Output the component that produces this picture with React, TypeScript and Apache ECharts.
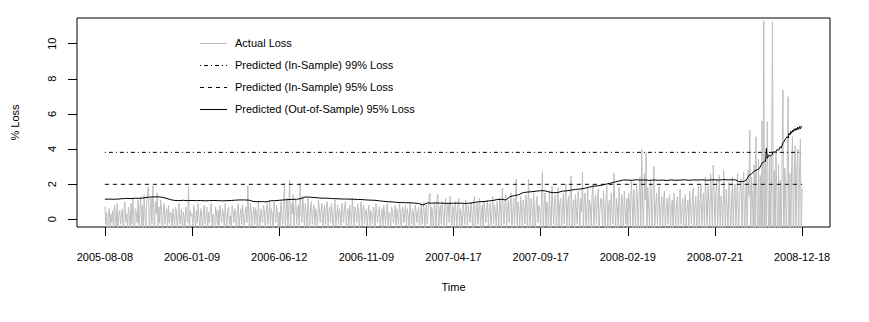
import React, { useEffect, useRef } from "react";
import * as echarts from "echarts";

const dateLabels = ["2005-08-08", "2006-01-09", "2006-06-12", "2006-11-09", "2007-04-17", "2007-09-17", "2008-02-19", "2008-07-21", "2008-12-18"];
const xTickPositions = [0, 100, 200, 300, 400, 500, 600, 700, 800];
const yTickValues = [0, 2, 4, 6, 8, 10];

// Actual daily loss (%), one value per trading day (index 0..800)
const actualLoss = [
  // 0-99
  0.7,-0.3,0.4,-0.8,0.2,0.6,-0.5,0.3,-0.2,0.5,
  -0.6,0.8,0.1,-0.4,0.9,-0.7,0.3,0.5,-0.3,0.2,
  0.6,-0.9,0.4,1.0,-0.2,0.3,-0.6,0.7,0.2,-0.5,
  0.9,-0.3,1.2,0.1,-0.8,0.6,0.4,-0.2,1.1,-0.6,
  0.5,1.3,-0.4,0.8,-1.0,1.4,0.2,-0.5,0.9,1.6,
  1.85,-0.7,0.6,1.2,-0.3,1.9,0.4,-0.9,1.0,0.3,
  1.5,-0.6,0.7,-0.2,1.1,0.5,-0.8,0.4,0.9,-0.3,
  0.2,0.6,-0.5,0.8,-0.2,0.4,0.3,-0.7,0.6,0.1,
  -0.4,0.7,0.5,-0.6,0.3,0.9,-0.3,0.2,0.6,-0.8,
  0.4,0.1,-0.5,0.7,0.3,-0.2,1.85,-0.6,0.5,0.2,
  // 100-199
  0.3,-0.4,0.8,0.2,-0.6,0.5,-0.2,0.9,0.1,-0.5,
  0.6,0.3,-0.7,0.4,0.8,-0.3,0.2,0.7,-0.5,0.4,
  -0.2,0.6,0.9,-0.4,0.3,0.1,-0.8,0.7,0.4,-0.3,
  0.5,-0.6,0.8,0.2,-0.2,0.6,0.3,-0.5,0.9,0.1,
  -0.4,0.5,0.7,-0.3,0.2,-0.6,0.8,0.4,-0.2,0.6,
  0.3,-0.7,0.5,0.9,-0.4,0.2,0.6,-0.3,0.8,0.1,
  -0.5,0.4,0.7,-0.2,1.9,0.3,-0.6,0.9,0.5,-0.4,
  0.2,0.7,-0.3,0.6,0.4,-0.8,1.0,0.2,-0.5,0.6,
  0.3,-0.2,0.8,0.5,-0.6,0.4,0.9,-0.3,0.2,1.1,
  -0.4,0.6,0.3,-0.7,1.0,0.5,-0.2,0.8,0.4,-0.5,
  // 200-299
  0.4,-0.5,1.0,0.3,-0.3,0.8,2.06,-0.6,0.5,1.2,
  -0.4,0.7,2.2,-0.8,0.9,0.3,1.4,-0.5,0.6,1.1,
  -0.3,0.5,0.8,-0.7,2.06,0.4,-0.2,1.3,0.6,-0.5,
  0.9,0.3,-0.4,1.2,0.5,-0.6,0.7,1.0,-0.3,0.4,
  0.8,-0.5,0.6,0.2,-0.4,1.1,0.7,-0.2,0.5,0.9,
  -0.6,0.3,0.8,-0.3,0.6,1.0,-0.5,0.4,0.7,-0.2,
  0.9,0.3,-0.6,0.5,1.1,-0.4,0.2,0.8,-0.3,0.6,
  0.4,-0.7,0.9,0.5,-0.2,0.7,1.0,-0.5,0.3,0.6,
  -0.4,0.8,0.2,-0.3,1.2,0.5,-0.6,0.7,0.4,-0.2,
  0.9,0.3,-0.5,0.6,1.0,-0.4,0.5,0.8,-0.3,0.4,
  // 300-399
  0.6,-0.4,0.3,0.8,-0.5,0.5,0.2,-0.3,0.7,0.4,
  -0.6,0.9,0.3,-0.2,0.5,0.7,-0.4,0.2,0.6,-0.5,
  0.8,0.3,-0.3,0.5,0.9,-0.6,0.4,0.2,-0.4,0.7,
  0.5,-0.2,0.3,0.8,-0.5,0.6,0.1,-0.3,0.9,0.4,
  -0.6,0.5,0.7,-0.2,0.3,0.8,-0.4,0.6,0.2,-0.5,
  0.9,0.4,-0.3,0.6,0.3,-0.7,0.8,0.5,-0.2,0.4,
  0.7,-0.5,0.3,0.9,-0.3,0.5,1.0,-0.6,0.4,0.8,
  -0.3,0.6,1.2,1.5,-0.5,0.7,0.4,-0.8,0.9,0.6,
  -0.4,1.1,1.42,-0.6,0.5,0.8,-0.3,1.0,0.4,-0.5,
  0.7,1.2,-0.4,0.6,0.9,-0.2,1.3,0.5,-0.7,0.8,
  // 400-499
  0.5,-0.6,1.0,0.3,-0.4,0.8,1.2,-0.5,0.6,0.2,
  -0.7,0.9,0.4,-0.3,1.1,0.6,-0.5,0.8,0.3,-0.2,
  1.0,0.5,-0.6,0.7,1.3,-0.4,0.4,0.9,-0.3,0.6,
  1.2,-0.5,0.3,0.8,-0.7,1.0,0.5,-0.2,0.7,1.1,
  -0.4,0.6,0.9,-0.6,0.4,1.3,-0.3,0.8,0.5,-0.5,
  1.0,0.3,-0.4,1.2,0.7,-0.6,1.78,0.5,-0.3,0.9,
  1.4,-0.5,0.6,1.1,-0.2,0.8,1.5,-0.7,0.4,1.2,
  -0.3,0.9,2.29,-0.6,1.0,0.5,-0.4,1.3,0.7,-0.5,
  1.1,0.6,-0.3,1.4,0.8,-0.6,2.28,0.4,-0.5,1.2,
  0.7,-0.4,1.5,0.3,-0.6,1.0,1.3,-0.2,0.8,0.5,
  // 500-599
  -0.5,1.2,2.71,-0.7,0.8,1.5,-0.4,1.0,0.6,-0.8,
  1.6,0.4,-0.5,1.9,0.7,-0.3,1.1,1.4,-0.6,0.5,
  1.8,-0.4,0.9,1.2,-0.7,0.6,1.5,-0.3,1.0,2.0,
  -0.5,0.8,1.3,-0.6,1.7,2.48,-0.4,0.7,1.1,-0.8,
  1.4,0.5,-0.3,1.6,0.9,-0.6,1.2,0.4,2.69,-0.5,
  1.0,1.5,-0.7,0.6,1.8,-0.4,1.1,0.8,-0.5,1.3,
  2.0,-0.6,0.7,1.4,-0.3,1.0,1.7,-0.8,0.5,1.2,
  0.9,-0.4,1.6,0.6,-0.7,1.3,1.9,-0.5,0.8,1.1,
  -0.6,1.5,0.4,-0.3,2.63,1.0,-0.7,1.2,0.7,-0.5,
  1.8,0.6,-0.4,1.4,1.0,-0.8,1.6,0.5,-0.3,1.2,
  // 600-699
  -0.6,1.5,0.8,-0.4,2.2,1.0,-0.7,1.7,0.5,-0.5,
  1.9,1.2,-0.8,1.4,2.4,-0.5,3.98,0.9,-0.6,2.6,
  1.1,3.8,-0.7,1.8,0.6,-0.4,2.3,1.3,-0.9,1.6,
  3.0,-0.5,0.8,1.5,-0.3,1.1,1.9,-0.6,0.7,1.3,
  -0.4,1.0,1.6,-0.7,0.5,1.2,-0.3,0.9,1.4,-0.5,
  0.6,1.1,-0.8,1.5,0.4,-0.4,1.0,1.3,-0.6,0.8,
  1.7,-0.3,0.5,1.2,-0.7,0.9,1.4,-0.4,0.6,1.1,
  -0.5,1.6,0.8,-0.3,1.0,1.8,-0.6,0.7,1.3,-0.8,
  0.5,1.9,-0.4,1.1,2.0,-0.6,0.8,1.5,-0.5,2.4,
  1.2,-0.7,1.9,0.9,-0.4,2.6,1.4,-0.8,3.09,1.6,
  // 700-800
  -0.8,1.5,2.2,-0.6,1.0,2.5,-1.0,1.3,0.7,-0.5,
  2.8,1.1,-0.9,1.7,0.6,-0.4,2.1,1.4,-1.1,0.9,
  2.4,-0.7,1.6,2.0,-0.5,1.2,2.6,-1.2,0.8,1.9,
  2.3,-0.6,1.5,2.7,-1.4,1.0,2.2,-0.8,2.8,1.3,
  5.08,-1.8,2.4,1.2,-1.0,3.1,-1.5,4.7,1.8,-2.2,
  3.4,-1.6,2.5,-2.0,5.6,-3.0,11.3,-2.5,3.2,-1.8,
  5.56,1.5,-2.8,3.6,-1.2,2.4,11.25,-3.5,2.8,-1.9,
  3.9,1.4,-2.4,3.1,-1.6,2.2,-2.0,3.5,7.36,-2.6,
  2.9,1.7,-1.9,3.3,6.98,-2.3,2.6,-1.5,3.0,4.7,
  -2.1,2.5,4.2,-1.4,3.1,4.0,-1.8,2.7,4.57,-1.2,
  1.8
];

// Predicted (out-of-sample) 95% loss, sampled every 5 trading days (index 0..715)
const predEvery5 = [
  1.14,1.15,1.14,1.15,1.17,1.19,1.18,1.2,1.19,1.22,
  1.26,1.27,1.28,1.26,1.2,1.12,1.07,1.06,1.08,1.06,
  1.07,1.06,1.07,1.05,1.06,1.07,1.06,1.05,1.06,1.07,
  1.09,1.1,1.1,1.09,1.02,1.0,1.01,0.99,1.05,1.06,
  1.08,1.1,1.12,1.13,1.14,1.18,1.27,1.26,1.24,1.22,
  1.2,1.2,1.18,1.17,1.16,1.15,1.15,1.14,1.13,1.12,
  1.1,1.09,1.08,1.05,1.02,1.0,0.99,0.96,0.95,0.94,
  0.94,0.92,0.9,0.81,0.93,0.92,0.93,0.92,0.91,0.91,
  0.91,0.92,0.91,0.9,0.92,0.97,1.0,1.01,1.04,1.07,
  1.12,1.14,1.1,1.29,1.35,1.4,1.52,1.55,1.57,1.6,
  1.63,1.62,1.55,1.51,1.53,1.6,1.62,1.66,1.7,1.72,
  1.76,1.82,1.88,1.9,1.94,2.0,2.05,2.12,2.18,2.24,
  2.23,2.22,2.25,2.23,2.24,2.21,2.24,2.22,2.23,2.21,
  2.24,2.22,2.23,2.25,2.22,2.24,2.23,2.25,2.22,2.24,
  2.25,2.23,2.26,2.24
];
// Tail of the predicted series (after index 715), where it turns jagged
const predTailIdx = [720,724,727,730,733,736,739,742,745,748,751,754,757,758,759,760,762,764,766,767,769,771,773,775,776,778,779,781,783,784,785,786,787,788,789,790,791,792,793,794,795,796,797,798,799,800];
const predTailVal = [2.25,2.24,2.15,2.14,2.16,2.24,2.5,2.58,2.75,2.8,2.9,3.19,3.3,3.28,4.04,3.47,3.66,3.6,3.7,3.85,3.8,3.95,3.94,4.13,4.05,4.35,4.42,4.6,4.7,4.62,4.9,4.8,5.0,4.9,5.08,4.98,5.15,5.05,5.18,5.08,5.25,5.12,5.28,5.15,5.3,5.27];

const inSample99 = 3.81;
const inSample95 = 1.99;
const firstIdx = 0;
const lastIdx = 800;

const legendLabels = [
  "Actual Loss",
  "Predicted (In-Sample) 99% Loss",
  "Predicted (In-Sample) 95% Loss",
  "Predicted (Out-of-Sample) 95% Loss",
];

const FONT = '"Liberation Sans", Arial, Helvetica, sans-serif';
const GRAY = "#BEBEBE";
const DOTDASH = [1, 3, 4, 3];
const DASHED = [4, 4];

export default function App() {
  const ref = useRef<HTMLDivElement>(null);

  useEffect(() => {
    if (!ref.current) return;
    const chart = echarts.init(ref.current, null, { renderer: "svg" });

    const predData: number[][] = predEvery5.map((v, i) => [i * 5, v]);
    predTailIdx.forEach((idx, i) => predData.push([idx, predTailVal[i]]));

    const legendStyles = [
      { stroke: GRAY, lineDash: null as any },
      { stroke: "#000", lineDash: DOTDASH },
      { stroke: "#000", lineDash: DASHED },
      { stroke: "#000", lineDash: null as any },
    ];
    const legendY = [43, 65, 87, 109];
    const graphic: any[] = [];
    legendLabels.forEach((label, i) => {
      graphic.push({
        type: "line",
        silent: true,
        shape: { x1: 200, y1: legendY[i] + 0.5, x2: 227, y2: legendY[i] + 0.5 },
        style: { stroke: legendStyles[i].stroke, lineWidth: 1, lineDash: legendStyles[i].lineDash },
      });
      graphic.push({
        type: "text",
        silent: true,
        x: 235,
        y: legendY[i],
        style: {
          text: label,
          fill: "#000",
          fontSize: 11,
          fontFamily: FONT,
          align: "left",
          verticalAlign: "middle",
        },
      });
    });

    chart.setOption({
      animation: false,
      backgroundColor: "#fff",
      textStyle: { fontFamily: FONT },
      grid: {
        left: 77,
        right: 39,
        top: 18,
        bottom: 95,
        show: true,
        borderColor: "#000",
        borderWidth: 1,
        backgroundColor: "transparent",
      },
      xAxis: {
        type: "value",
        min: -32,
        max: 832,
        name: "Time",
        nameLocation: "middle",
        nameGap: 54,
        nameTextStyle: { fontSize: 11, color: "#000", fontFamily: FONT },
        axisLine: { show: false, onZero: false },
        axisTick: {
          show: true,
          length: 9,
          customValues: xTickPositions,
          lineStyle: { color: "#000", width: 1 },
        },
        axisLabel: {
          customValues: xTickPositions,
          formatter: (v: number) => dateLabels[Math.round(v / 100)] ?? "",
          margin: 24,
          fontSize: 11,
          color: "#000",
          fontFamily: FONT,
        },
        splitLine: { show: false },
      },
      yAxis: {
        type: "value",
        min: -0.44,
        max: 11.46,
        name: "% Loss",
        nameLocation: "middle",
        nameGap: 57,
        nameTextStyle: { fontSize: 11, color: "#000", fontFamily: FONT },
        axisLine: { show: false, onZero: false },
        axisTick: {
          show: true,
          length: 9,
          customValues: yTickValues,
          lineStyle: { color: "#000", width: 1 },
        },
        axisLabel: {
          customValues: yTickValues,
          rotate: 90,
          margin: 20,
          fontSize: 11,
          color: "#000",
          fontFamily: FONT,
        },
        splitLine: { show: false },
      },
      graphic,
      series: [
        {
          name: legendLabels[0],
          type: "line",
          data: actualLoss.map((v, i) => [i, v]),
          symbol: "none",
          lineStyle: { color: GRAY, width: 1 },
          clip: true,
          silent: true,
          z: 1,
        },
        {
          name: legendLabels[1],
          type: "line",
          data: [[firstIdx, inSample99], [lastIdx, inSample99]],
          symbol: "none",
          lineStyle: { color: "#000", width: 1, type: DOTDASH },
          silent: true,
          z: 2,
        },
        {
          name: legendLabels[2],
          type: "line",
          data: [[firstIdx, inSample95], [lastIdx, inSample95]],
          symbol: "none",
          lineStyle: { color: "#000", width: 1, type: DASHED },
          silent: true,
          z: 2,
        },
        {
          name: legendLabels[3],
          type: "line",
          data: predData,
          symbol: "none",
          lineStyle: { color: "#000", width: 1 },
          clip: true,
          silent: true,
          z: 3,
        },
      ],
    });

    return () => chart.dispose();
  }, []);

  return (
    <div
      ref={ref}
      style={{ position: "fixed", left: 0, top: 0, width: 869, height: 322 }}
    />
  );
}
